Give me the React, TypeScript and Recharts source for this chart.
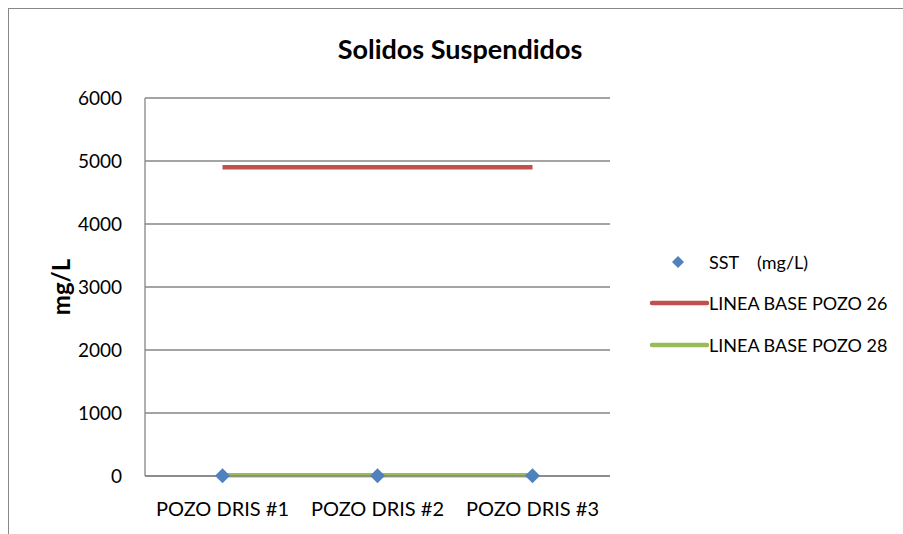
import {
  CartesianGrid,
  ComposedChart,
  Line,
  XAxis,
  YAxis,
} from 'recharts';

const CATEGORIES = ['POZO DRIS #1', 'POZO DRIS #2', 'POZO DRIS #3'];
const SST = [5, 5, 5];
const BASE_26 = [4900, 4900, 4900];
const BASE_28 = [10, 10, 10];
const Y_TICKS = [0, 1000, 2000, 3000, 4000, 5000, 6000];

const DATA = CATEGORIES.map((name, i) => ({
  name,
  sst: SST[i],
  base26: BASE_26[i],
  base28: BASE_28[i],
}));

const FONT = 'Lato, Carlito, "Open Sans", sans-serif';
const GRID = '#868686';
const BLUE = '#4F81BD';
const RED = '#C0504D';
const GREEN = '#9BBB59';

function diamondPath(cx: number, cy: number, r: number) {
  return `M${cx},${cy - r} L${cx + r},${cy} L${cx},${cy + r} L${cx - r},${cy} Z`;
}

function DiamondDot(props: { cx?: number; cy?: number; index?: number }) {
  const { cx, cy } = props;
  if (cx == null || cy == null) return <g key={props.index} />;
  return <path key={props.index} d={diamondPath(cx, cy, 7.5)} fill={BLUE} />;
}

function ChartLegend() {
  const row = { display: 'flex', alignItems: 'center', height: 41.5 } as const;
  const txt = { fontSize: 18, color: '#000', whiteSpace: 'pre' } as const;
  return (
    <div style={{ position: 'absolute', left: 632, top: 232, fontFamily: FONT }}>
      <div style={row}>
        <svg width={68} height={20}>
          <path d={diamondPath(37, 10, 6)} fill={BLUE} />
        </svg>
        <span style={txt}>SST    (mg/L)</span>
      </div>
      <div style={row}>
        <svg width={68} height={20}>
          <line x1={11} x2={66} y1={10} y2={10} stroke={RED} strokeWidth={4.5} strokeLinecap="round" />
        </svg>
        <span style={txt}>LINEA BASE POZO 26</span>
      </div>
      <div style={row}>
        <svg width={68} height={20}>
          <line x1={11} x2={66} y1={10} y2={10} stroke={GREEN} strokeWidth={4.5} strokeLinecap="round" />
        </svg>
        <span style={txt}>LINEA BASE POZO 28</span>
      </div>
    </div>
  );
}

export default function App() {
  return (
    <div
      style={{
        position: 'absolute',
        left: 8,
        top: 8,
        width: 895,
        height: 526,
        borderLeft: '1px solid #888',
        borderTop: '1px solid #888',
        background: '#fff',
        fontFamily: FONT,
        boxSizing: 'border-box',
      }}
    >
      <div
        style={{
          position: 'absolute',
          left: 0,
          width: 902,
          top: 23,
          textAlign: 'center',
          fontWeight: 700,
          fontSize: 27,
          color: '#000',
        }}
      >
        Solidos Suspendidos
      </div>
      <ChartLegend />
      <ComposedChart
        width={894}
        height={525}
        data={DATA}
        margin={{ top: 89, right: 293, bottom: 28, left: 66 }}
      >
        <CartesianGrid vertical={false} stroke={GRID} strokeWidth={1.3} />
        <XAxis
          dataKey="name"
          interval={0}
          padding={{ left: 77.5, right: 77.5 }}
          tickLine={false}
          axisLine={{ stroke: GRID, strokeWidth: 1.3 }}
          tick={{ fill: '#000', fontSize: 20, fontFamily: FONT }}
          tickMargin={20}
          height={30}
        />
        <YAxis
          domain={[0, 6000]}
          ticks={Y_TICKS}
          tickLine={false}
          axisLine={{ stroke: GRID, strokeWidth: 1.3 }}
          tick={{ fill: '#000', fontSize: 19, fontFamily: FONT }}
          tickMargin={17}
          width={70}
          label={({ viewBox }: { viewBox?: { x: number; y: number; height: number } }) => {
            if (!viewBox) return null;
            const x = viewBox.x - 15;
            const y = viewBox.y + viewBox.height / 2;
            return (
              <text
                x={x}
                y={y}
                transform={`rotate(-90 ${x} ${y})`}
                textAnchor="middle"
                dominantBaseline="central"
                fontSize={24}
                fontWeight={700}
                fontFamily={FONT}
                fill="#000"
              >
                mg/L
              </text>
            );
          }}
        />
        <Line
          dataKey="base26"
          stroke={RED}
          strokeWidth={4.5}
          dot={false}
          activeDot={false}
          isAnimationActive={false}
        />
        <Line
          dataKey="base28"
          stroke={GREEN}
          strokeWidth={4.5}
          dot={false}
          activeDot={false}
          isAnimationActive={false}
        />
        <Line
          dataKey="sst"
          stroke="none"
          dot={(p: { cx?: number; cy?: number; index?: number }) => <DiamondDot {...p} />}
          activeDot={false}
          isAnimationActive={false}
        />
      </ComposedChart>
    </div>
  );
}
